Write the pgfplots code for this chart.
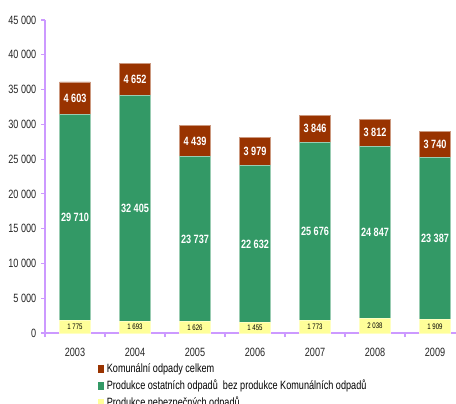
\documentclass[border=0pt]{standalone}
\usepackage{fontspec}
\setmainfont{Liberation Sans}[FakeStretch=0.76]
\usepackage{pgfplots}
\usepackage{pgfplotstable}
\pgfplotsset{compat=1.18}
\definecolor{kred}{HTML}{993300}
\definecolor{kgreen}{HTML}{339966}
\definecolor{kyellow}{HTML}{FFFF99}
\definecolor{lav}{HTML}{CC99FF}
\pgfplotstableread{
x y g r
0 1775 29710 4603
1 1693 32405 4652
2 1626 23737 4439
3 1455 22632 3979
4 1773 25676 3846
5 2038 24847 3812
6 1909 23387 3740
}\data
\begin{document}
\begin{tikzpicture}
\begin{axis}[
  scale only axis, width=315pt, height=234.75pt,
  xmin=-0.5, xmax=6.5, ymin=0, ymax=45000,
  axis x line*=bottom, axis y line*=left,
  axis line style={lav, line width=0.8pt, -},
  xtick={0,...,6}, xticklabels={2003,2004,2005,2006,2007,2008,2009},
  minor xtick={-0.5,0.5,...,6.5},
  major x tick style={draw=none},
  minor tick length=3pt,
  ytick={0,5000,...,45000},
  tick align=outside, major tick length=3pt,
  every tick/.style={lav, line width=0.8pt},
  tick label style={font=\fontsize{9}{10}\selectfont, text=black!85},
  xticklabel style={yshift=-4.5pt},
  /pgf/number format/assume math mode=true,
  /pgf/number format/1000 sep={\ },
  scaled y ticks=false,
  legend style={draw=none, fill=none, at={(axis description cs:0.126,0)}, anchor=north west, yshift=-21pt,
    font=\fontsize{9}{10}\selectfont, cells={anchor=west}, row sep=0pt, inner sep=0pt},
  legend image code/.code={\draw[#1, draw=none] (0pt,-3pt) rectangle (4.5pt,3pt);},
  clip=false,
]
\addplot[ybar, bar width=23pt, bar shift=0pt, fill=kred, draw=kred!50!white, line width=0.6pt]
  table[x=x, y expr=\thisrow{y}+\thisrow{g}+\thisrow{r}] {\data};
\addlegendentry{Komunální odpady celkem}
\addplot[ybar, bar width=23pt, bar shift=0pt, fill=kgreen, draw=kgreen!50!white, line width=0.6pt]
  table[x=x, y expr=\thisrow{y}+\thisrow{g}] {\data};
\addlegendentry{Produkce ostatních odpadů\ \ bez produkce Komunálních odpadů}
\addplot[ybar, bar width=23pt, bar shift=0pt, fill=kyellow, draw=kyellow!60!white, line width=0.6pt]
  table[x=x, y=y] {\data};
\addlegendentry{Produkce nebezpečných odpadů}
% labels
\addplot[forget plot, only marks, mark=none, point meta=explicit, nodes near coords,
  every node near coord/.style={anchor=center, text=white, font=\bfseries\fontsize{9}{10}\selectfont}]
  table[x=x, y expr=\thisrow{y}+\thisrow{g}+\thisrow{r}/2, meta=r] {\data};
\addplot[forget plot, only marks, mark=none, point meta=explicit, nodes near coords,
  every node near coord/.style={anchor=center, text=white, font=\bfseries\fontsize{9}{10}\selectfont}]
  table[x=x, y expr=\thisrow{y}+\thisrow{g}/2, meta=g] {\data};
\addplot[forget plot, only marks, mark=none, point meta=explicit, nodes near coords,
  every node near coord/.style={anchor=center, text=black, font=\fontsize{6}{7}\selectfont}]
  table[x=x, y expr=\thisrow{y}/2, meta=y] {\data};
\coordinate (o) at (rel axis cs:0,0);
\end{axis}
\pgfresetboundingbox
\path ([shift={(-33.75pt,-52.5pt)}]o) rectangle ([shift={(308.25pt,249.75pt)}]o);
\end{tikzpicture}
\end{document}
